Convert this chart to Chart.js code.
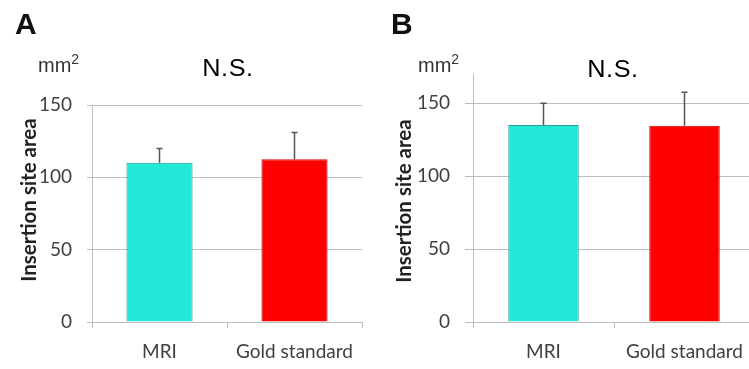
<!DOCTYPE html>
<html>
<head>
<meta charset="utf-8">
<script src="https://cdn.jsdelivr.net/npm/chart.js@4.4.0/dist/chart.umd.min.js"></script>
<style>
  html, body { margin: 0; padding: 0; width: 749px; height: 369px; overflow: hidden; background: #fff; }
  canvas { position: absolute; top: 0; }
  .lbl { position: absolute; font-family: Arial, "Liberation Sans", sans-serif; white-space: nowrap; line-height: 1; color: #111; }
  .panel-letter { font-size: 30px; font-weight: bold; }
  .unit { font-size: 20px; color: #333; }
  .unit span { position: relative; top: -8px; font-size: 14px; }
  .ns { font-size: 23px; color: #000; letter-spacing: 0.5px; transform: translateX(-50%) scaleX(1.1); }
  .ytitle { position: absolute; font-family: Lato, sans-serif; font-weight: bold; font-size: 20.5px; color: #222;
            white-space: nowrap; transform: translate(-50%, -50%) rotate(-90deg); line-height: 1; }
</style>
</head>
<body>
<canvas id="chartA" width="375" height="369" style="left:0"></canvas>
<canvas id="chartB" width="390" height="369" style="left:375px"></canvas>

<div class="lbl panel-letter" style="left:15px; top:9px">A</div>
<div class="lbl panel-letter" style="left:391px; top:9px">B</div>
<div class="lbl unit" style="left:38px; top:55px">mm<span>2</span></div>
<div class="lbl unit" style="left:418px; top:55px">mm<span>2</span></div>
<div class="lbl ns" style="left:228px; top:57px">N.S.</div>
<div class="lbl ns" style="left:613px; top:58px">N.S.</div>
<div class="ytitle" style="left:28px; top:200px">Insertion site area</div>
<div class="ytitle" style="left:403px; top:201px">Insertion site area</div>

<script>
const categories = ["MRI", "Gold standard"];

// panel A
const meanA = [110, 112.5];
const sdA = [10, 18.5];
const yTicksA = [0, 50, 100, 150];

// panel B
const meanB = [135, 134.5];
const sdB = [15, 23];
const yTicksB = [0, 50, 100, 150];

const fillColors = ["#22e8d8", "#ff0000"];
const edgeColors = ["#2e9a90", "#d40000"];
const gridColor = "#bdbdbd";

Chart.defaults.font.family = "Lato, sans-serif";
Chart.defaults.color = "#404040";

/* upward-only error bars, like the original figure */
const errorBars = {
  id: "errorBars",
  afterDatasetsDraw(chart, args, opts) {
    const ctx = chart.ctx;
    const y = chart.scales.y;
    const ds = chart.data.datasets[0];
    ctx.save();
    ctx.strokeStyle = "#555";
    ctx.lineWidth = 1.5;
    chart.getDatasetMeta(0).data.forEach((bar, i) => {
      const top = y.getPixelForValue(ds.data[i] + opts.sd[i]);
      ctx.beginPath();
      ctx.moveTo(bar.x, bar.y);
      ctx.lineTo(bar.x, top);
      ctx.moveTo(bar.x - 3, top);
      ctx.lineTo(bar.x + 3, top);
      ctx.stroke();
    });
    ctx.restore();
  },
};

function makeChart(id, mean, sd, ticks, o) {
  return new Chart(document.getElementById(id), {
    type: "bar",
    data: {
      labels: categories,
      datasets: [{
        data: mean,
        backgroundColor: fillColors,
        borderColor: edgeColors,
        borderWidth: 1,
        categoryPercentage: 1,
        barPercentage: o.barPct,
      }],
    },
    plugins: [errorBars],
    options: {
      responsive: false,
      animation: false,
      layout: { padding: { left: 0, right: o.padRight, top: o.padTop, bottom: 0 } },
      plugins: {
        legend: { display: false },
        tooltip: { enabled: false },
        errorBars: { sd },
      },
      scales: {
        x: {
          grid: { drawOnChartArea: false, drawTicks: true, tickLength: 6, color: gridColor, offset: true },
          border: { color: gridColor },
          ticks: { padding: 12, font: { size: 19 }, color: "#404040" },
          afterFit(s) { s.height = 47; },
        },
        y: {
          min: 0,
          max: o.yMax,
          grid: { color: gridColor, tickLength: o.tickLen },
          border: { color: gridColor },
          ticks: { padding: 15, font: { size: 19 }, color: "#404040" },
          afterBuildTicks(s) { s.ticks = ticks.map(v => ({ value: v })); },
          afterFit(s) { s.width = o.yWidth; },
        },
      },
    },
  });
}

makeChart("chartA", meanA, sdA, yTicksA, { barPct: 0.49, padRight: 13, padTop: 105, yMax: 150, yWidth: 92, tickLen: 5 });
makeChart("chartB", meanB, sdB, yTicksB, { barPct: 0.5, padRight: 10, padTop: 74, yMax: 170, yWidth: 98, tickLen: 8 });
</script>
</body>
</html>
